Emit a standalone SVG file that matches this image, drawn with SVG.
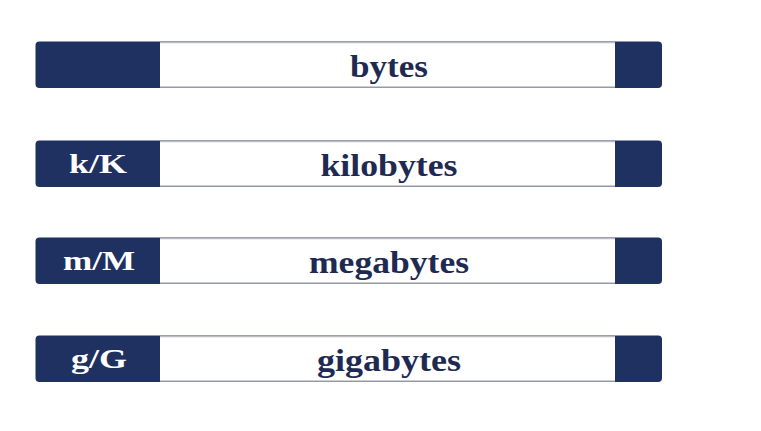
<svg xmlns="http://www.w3.org/2000/svg" width="761" height="431" viewBox="0 0 761 431">
  <style>
    .cap { fill: #1f3161; }
    .body { fill: #ffffff; }
    .rule { stroke: #bcbdc1; stroke-width: 1.6; }
    .unit { font-family: "Liberation Serif", "Times New Roman", serif; font-weight: bold; font-size: 32px; fill: #1f2a52; text-anchor: middle; }
    .abbr { font-family: "Liberation Serif", "Times New Roman", serif; font-weight: bold; font-size: 28px; fill: #ffffff; text-anchor: middle; }
  </style>
  <defs>
    <!-- one unit bar: dark end caps with a white label field between -->
    <g id="bar">
      <rect class="cap" x="35.5" y="0" width="626.5" height="46.5" rx="4"/>
      <rect class="body" x="160" y="1" width="455" height="44.5"/>
      <line class="rule" x1="160" y1="1" x2="615" y2="1"/>
      <line class="rule" x1="160" y1="45.5" x2="615" y2="45.5"/>
    </g>
  </defs>
  <rect width="761" height="431" fill="#ffffff"/>

  <g id="node-bytes">
    <use href="#bar" y="41.5"/>
    <text class="unit" x="389" y="77" textLength="78" lengthAdjust="spacingAndGlyphs">bytes</text>
  </g>

  <g id="node-kilobytes">
    <use href="#bar" y="140.5"/>
    <text class="abbr" x="98" y="173" textLength="58" lengthAdjust="spacingAndGlyphs">k/K</text>
    <text class="unit" x="389" y="176" textLength="137" lengthAdjust="spacingAndGlyphs">kilobytes</text>
  </g>

  <g id="node-megabytes">
    <use href="#bar" y="237.5"/>
    <text class="abbr" x="99" y="270" textLength="72" lengthAdjust="spacingAndGlyphs">m/M</text>
    <text class="unit" x="389" y="273" textLength="160" lengthAdjust="spacingAndGlyphs">megabytes</text>
  </g>

  <g id="node-gigabytes">
    <use href="#bar" y="335.5"/>
    <text class="abbr" x="99" y="368" textLength="56" lengthAdjust="spacingAndGlyphs">g/G</text>
    <text class="unit" x="389" y="371" textLength="144" lengthAdjust="spacingAndGlyphs">gigabytes</text>
  </g>

  <g id="connectors"/>
</svg>
